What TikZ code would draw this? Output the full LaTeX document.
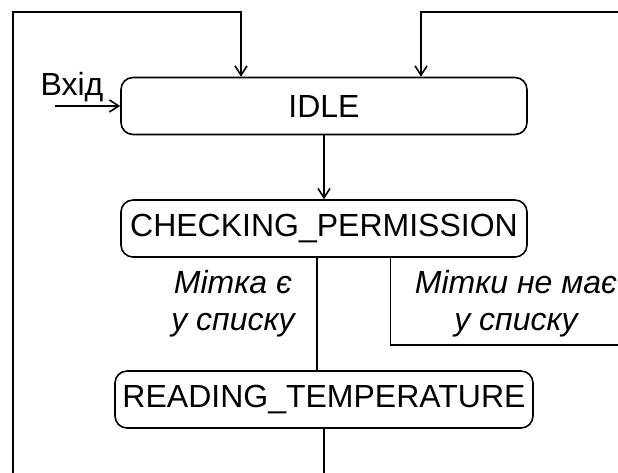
\documentclass[tikz,border=0pt]{standalone}
\usepackage{fontspec}
\setsansfont{Liberation Sans}
\usetikzlibrary{arrows.meta}

\begin{document}
\begin{tikzpicture}
    [
      x=0.75pt,
      y=-0.75pt,
      very thick,
      node distance=91.9pt,
      >={Straight Barb[length=7pt,width=9pt]},
      state/.style=
      {
        draw,
        rounded corners=9pt,
        inner sep=0pt,
        minimum height=42.75pt,
        minimum width=304.5pt,
        font=\sffamily\fontsize{24}{28}\selectfont
      },
      txt/.style=
      {
        align=center,
        inner sep=0pt,
        font=\sffamily\itshape\fontsize{24}{28}\selectfont
      }
    ]
    \useasboundingbox (0,0) rectangle (618,473);

    \node[state](IdleState) at (324,106) {IDLE};
    \node[state, below of=IdleState](CheckState) {CHECKING\_PERMISSION};
    \node[state, below of=CheckState, node distance=128.25pt,
          minimum width=313.5pt](ReadState) {READING\_TEMPERATURE};

    %entry arrow
    \coordinate (EntryStart) at (55,106);
    \node[anchor=base, font=\sffamily\fontsize{24}{28}\selectfont](EntryText) at (72,96) {Вхід};
    \draw[->] (EntryStart) -- (IdleState.west);

    %loops back into IDLE
    \coordinate (LoopLeft) at (13,474);
    \coordinate (LoopLeftTop) at (13,12);
    \coordinate (LoopRight) at (619,12);
    \draw[->] (LoopLeft) -- (LoopLeftTop) -| ([xshift=-62.25pt]IdleState.north);
    \draw[->] (LoopRight) -| ([xshift=72.75pt]IdleState.north);

    \draw[->] (IdleState) -- (CheckState);

    \node[txt](TagFound) at (233,304) {Мітка є\\у списку};
    \node[txt](TagMissing) at (516,304) {Мітки не має\\у списку};

    \coordinate (ExitRight) at (619,345);
    \coordinate (ExitDown) at (324,474);
    \draw ([xshift=-5.25pt]CheckState.south) -- ([xshift=-5.25pt]CheckState.south |- ReadState.north);
    \draw ([xshift=50pt]CheckState.south) |- (ExitRight);
    \draw (ReadState.south) -- (ExitDown);
  \end{tikzpicture}
\end{document}
